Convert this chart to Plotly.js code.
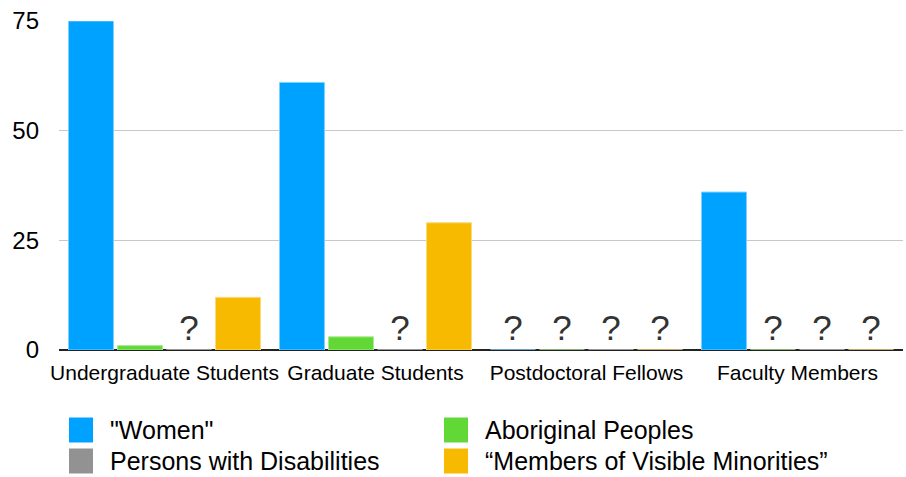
<!DOCTYPE html>
<html>
<head>
<meta charset="utf-8">
<script src="https://cdn.plot.ly/plotly-3.0.1.min.js"></script>
<style>html,body{margin:0;padding:0;background:#fff;}#chart{width:906px;height:477px;}</style>
</head>
<body>
<div id="chart"></div>
<script>
// Data (null = unknown, shown as "?")
const categories = ["Undergraduate Students", "Graduate Students", "Postdoctoral Fellows", "Faculty Members"];
const seriesNames = ["\"Women\"", "Aboriginal Peoples", "Persons with Disabilities", "\u201cMembers of Visible Minorities\u201d"];
const women = [75, 61, null, 36];
const aboriginal = [1, 3, null, null];
const disabilities = [null, null, null, null];
const minorities = [12, 29, null, null];
const yTicks = [0, 25, 50, 75];

const seriesValues = [women, aboriginal, disabilities, minorities];
const colors = ["#00A2FF", "#61D836", "#929292", "#F8BA00"];
const lineColors = ["#7fd0ff", "#a8ea90", "#c0c0c0", "#fbd97f"];
const FONT = "Liberation Sans, Arial, Helvetica, sans-serif";

const traces = seriesValues.map((vals, i) => ({
  type: "bar",
  name: seriesNames[i],
  x: categories,
  y: vals.map(v => v === null ? 0 : v),
  text: vals.map(v => v === null ? "?" : ""),
  textposition: "outside",
  textfont: {size: 35, color: "#333333", family: FONT},
  constraintext: "none",
  cliponaxis: false,
  marker: {color: colors[i], line: {color: lineColors[i], width: 1}},
  hoverinfo: "skip",
  showlegend: false
}));

// Custom legend (two columns, square swatches)
const L = 59, W = 844, B = 350, H = 329;
const px = x => (x - L) / W;
const py = y => (B - y) / H;
const legendPos = [[69, 430], [444, 430], [69, 461], [444, 461]];
const shapes = [];
const annotations = [];
seriesNames.forEach((n, i) => {
  const [lx, ly] = legendPos[i];
  shapes.push({type: "rect", xref: "paper", yref: "paper",
    x0: px(lx), x1: px(lx + 24), y0: py(ly - 12.5), y1: py(ly + 12.5),
    fillcolor: colors[i], line: {width: 0}});
  annotations.push({xref: "paper", yref: "paper", x: px(lx + 39), y: py(ly),
    xanchor: "left", yanchor: "middle", showarrow: false, text: n,
    font: {family: FONT, size: 25, color: "#000"}});
});

const layout = {
  width: 906, height: 477,
  margin: {l: 59, r: 3, t: 21, b: 127, pad: 0},
  paper_bgcolor: "#fff", plot_bgcolor: "#fff",
  barmode: "group", bargap: 0.071, bargroupgap: 0.082,
  font: {family: FONT, color: "#000"},
  xaxis: {
    type: "category", showgrid: false, ticks: "", showline: false,
    tickfont: {size: 21, color: "#000", family: FONT}, ticklabelstandoff: 8
  },
  yaxis: {
    range: [0, 75], tickvals: yTicks, ticktext: yTicks.map(String),
    showgrid: true, gridcolor: "#c8c8c8", gridwidth: 1,
    zeroline: true, zerolinecolor: "#222", zerolinewidth: 1.2,
    showline: false, ticks: "",
    tickfont: {size: 24, color: "#000", family: FONT}, ticklabelstandoff: 19
  },
  showlegend: false,
  shapes: shapes,
  annotations: annotations
};

Plotly.newPlot("chart", traces, layout, {displayModeBar: false, staticPlot: true});
</script>
</body>
</html>
